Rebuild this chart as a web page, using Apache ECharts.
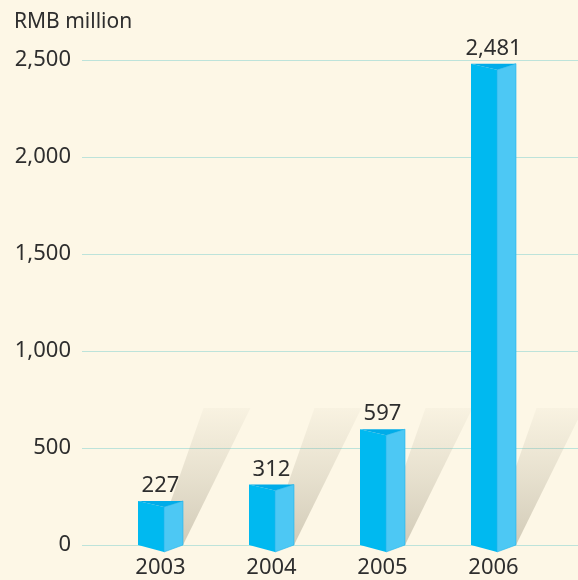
<!DOCTYPE html>
<html>
<head>
<meta charset="utf-8">
<script src="https://cdn.jsdelivr.net/npm/echarts@6/dist/echarts.min.js"></script>
<style>
  html, body { margin: 0; padding: 0; background: #fdf7e6; }
  #chart { width: 578px; height: 580px; }
</style>
</head>
<body>
<div id="chart"></div>
<script>
// 数据
const years = ["2003", "2004", "2005", "2006"];
const values = [227, 312, 597, 2481];
const yTicks = [0, 500, 1000, 1500, 2000, 2500];

const fontFamily = "Noto Sans";
const textColor = "#2e2e2e";

const fmt = (v) => v.toLocaleString("en-US");

// 柱子阴影（斜向渐变，半透明，网格线可透出）
const renderShadow = (params, api) => {
  const base = api.coord([api.value(0), 0]);
  const c = base[0], y = base[1];
  const h = 137;
  return {
    type: "polygon",
    shape: {
      points: [[c - 5, y], [c + 22.5, y], [c + 90, y - h], [c + 43, y - h]],
    },
    style: {
      fill: {
        type: "linear", x: 0, y: 1, x2: 0, y2: 0,
        colorStops: [
          { offset: 0, color: "rgba(160,152,130,0.46)" },
          { offset: 0.5, color: "rgba(160,152,130,0.24)" },
          { offset: 1, color: "rgba(160,152,130,0.05)" },
        ],
      },
    },
  };
};

// 立体柱子
const renderBar = (params, api) => {
  const top = api.coord([api.value(0), api.value(1)]);
  const base = api.coord([api.value(0), 0]);
  const c = base[0];
  const l = c - 22.5, rf = c + 3.5, r = c + 22.5;
  const t = top[1], b = base[1];
  return {
    type: "group",
    children: [
      {
        type: "polygon",
        shape: { points: [[l, t], [rf, t + 6], [rf, b + 7], [l, b]] },
        style: { fill: "#00b9f0" },
      },
      {
        type: "polygon",
        shape: { points: [[rf, t + 6], [r, t], [r, b], [rf, b + 7]] },
        style: { fill: "#4dc8f4", stroke: "#1eb4ec", lineWidth: 0.6 },
      },
      {
        type: "polygon",
        shape: { points: [[l, t], [r, t], [rf, t + 6]] },
        style: { fill: "#00ace9" },
      },
      {
        type: "text",
        x: c,
        y: t - 4,
        style: {
          text: fmt(api.value(1)),
          fill: textColor,
          font: "22px '" + fontFamily + "'",
          align: "center",
          verticalAlign: "bottom",
        },
      },
    ],
  };
};

const chart = echarts.init(document.getElementById("chart"));
chart.setOption({
  backgroundColor: "#fdf7e6",
  animation: false,
  title: {
    text: "RMB million",
    left: 9,
    top: 7,
    textStyle: { color: textColor, fontFamily, fontSize: 21, fontWeight: "normal" },
  },
  grid: [
    { left: 82, right: 0, top: 60, bottom: 35 },
    { left: 105, right: 29, top: 60, bottom: 35 },
  ],
  xAxis: [
    { type: "value", gridIndex: 0, show: false },
    {
      type: "category",
      gridIndex: 1,
      data: years,
      axisLine: { show: false },
      axisTick: { show: false },
      axisLabel: { color: textColor, fontFamily, fontSize: 22, margin: 12 },
    },
  ],
  yAxis: [
    {
      type: "value",
      gridIndex: 0,
      min: yTicks[0],
      max: yTicks[yTicks.length - 1],
      interval: 500,
      axisLine: { show: false },
      axisTick: { show: false },
      axisLabel: { color: textColor, fontFamily, fontSize: 22, margin: 11, formatter: fmt },
      splitLine: { lineStyle: { color: "#bde3da", width: 1.2 } },
    },
    {
      type: "value",
      gridIndex: 1,
      min: yTicks[0],
      max: yTicks[yTicks.length - 1],
      interval: 500,
      show: false,
      splitLine: { show: false },
    },
  ],
  series: [
    {
      type: "custom",
      xAxisIndex: 1,
      yAxisIndex: 1,
      renderItem: renderShadow,
      data: years.map((y, i) => [i, values[i]]),
      silent: true,
    },
    {
      type: "custom",
      xAxisIndex: 1,
      yAxisIndex: 1,
      renderItem: renderBar,
      data: years.map((y, i) => [i, values[i]]),
    },
  ],
});
</script>
</body>
</html>
